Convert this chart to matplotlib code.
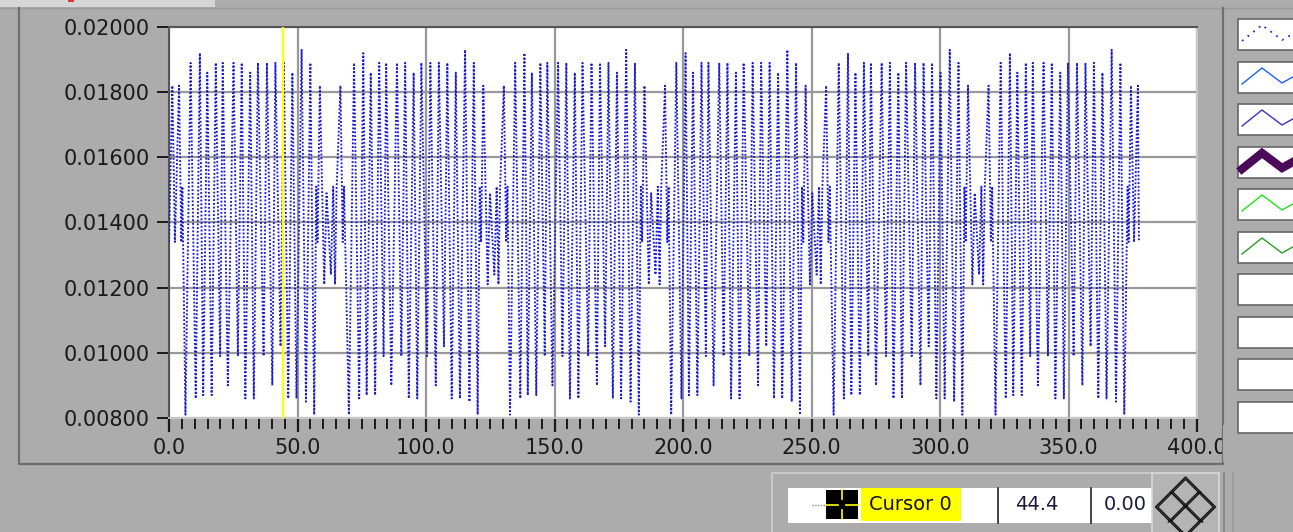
import numpy as np
import matplotlib
matplotlib.use("Agg")
import matplotlib.pyplot as plt
from matplotlib.lines import Line2D
from matplotlib.patches import Rectangle, Polygon
from matplotlib.ticker import MultipleLocator, FormatStrFormatter

# --- data (waveform repeats about every 63 units) ---
period_starts = [0.0, 63.6, 126.3, 189.0, 252.2, 315.2]

# first few samples before the first deep trough
head_x = [0.0, 1.3, 2.3, 3.9, 4.8, 5.2]
head_y = [0.0134, 0.0182, 0.0134, 0.0182, 0.0134, 0.0151]

# big swings inside one period (phase relative to period start)
swing_phase = [6.4, 8.4, 10.4, 12.0, 13.3, 14.9, 16.6, 18.2, 19.9, 20.9,
               22.9, 25.1, 26.8, 28.3, 29.7, 31.6, 33.0, 34.6, 36.8, 38.1,
               40.2, 41.4, 43.4, 44.7, 46.4, 48.0, 49.6, 51.6, 53.3, 55.0, 56.5]
swing_y = [0.0081, 0.0189, 0.0086, 0.0192, 0.0087, 0.0186, 0.0087, 0.0189, 0.0099, 0.0189,
           0.0090, 0.0189, 0.0099, 0.0189, 0.0086, 0.0186, 0.0086, 0.0189, 0.0099, 0.0189,
           0.0090, 0.0189, 0.0102, 0.0189, 0.0086, 0.0186, 0.0086, 0.0193, 0.0085, 0.0189, 0.0081]

# small wiggles between the bursts
gap_phase = [57.3, 57.8, 58.7, 60.4, 61.3, 63.0, 63.9, 64.6, 65.2, 66.7, 67.6, 68.1]
gap_y = [0.0151, 0.0134, 0.0182, 0.0121, 0.0149, 0.0124, 0.0151, 0.0121, 0.0150, 0.0182, 0.0134, 0.0151]

# end of the record
tail_x = [373.0, 373.4, 374.3, 375.5, 377.0, 377.4]
tail_y = [0.0151, 0.0134, 0.0182, 0.0134, 0.0182, 0.0134]

cursor_x = 44.4
cursor_name = "Cursor 0"
cursor_x_text = "44.4"
cursor_y_text = "0.00"

legend_styles = [
    dict(color="#2323d2", lw=1.3, ls=(0, (1, 3))),
    dict(color="#1b5fff", lw=1.0, ls="-"),
    dict(color="#3b2fc9", lw=1.0, ls="-"),
    dict(color="#4a0a58", lw=6.0, ls="-"),
    dict(color="#22e022", lw=1.0, ls="-"),
    dict(color="#2c9a2c", lw=1.0, ls="-"),
    None, None, None, None,
]

# build the series from the pieces above
xs, ys = list(head_x), list(head_y)
for k, s in enumerate(period_starts):
    xs += [s + p for p in swing_phase]
    ys += swing_y
    if k < len(period_starts) - 1:
        xs += [s + p for p in gap_phase]
        ys += gap_y
xs += tail_x
ys += tail_y

# --- figure ---
W, H = 1293, 532
BG = "#acacac"
fig = plt.figure(figsize=(W / 100, H / 100), dpi=100, facecolor=BG)


def fx(px):
    return px / W


def fy(py):
    return 1 - py / H


def fig_line(px, py, **kw):
    fig.add_artist(Line2D([fx(v) for v in px], [fy(v) for v in py],
                          transform=fig.transFigure, **kw))


def fig_rect(x0, y0, x1, y1, **kw):
    fig.add_artist(Rectangle((fx(x0), fy(y1)), fx(x1) - fx(x0), fy(y0) - fy(y1),
                             transform=fig.transFigure, **kw))


# window chrome
fig_rect(0, 0, 215, 7, facecolor="#d6d6d6", edgecolor="none")
fig_rect(68, 0, 74, 2, facecolor="#e03030", edgecolor="none")
fig_line([0, W], [7.5, 7.5], color="#9a9a9a", lw=1)
fig_line([19, 19, 1222.5, 1222.5], [8, 464, 464, 8], color="#6f6f6f", lw=1.6)

ax = fig.add_axes([fx(169), fy(418), fx(1197) - fx(169), fy(27) - fy(418)])
ax.set_facecolor("white")
ax.plot(xs, ys, color="#1a1ad4", lw=1.35, ls=(0, (1, 1)), zorder=3)
ax.axvline(cursor_x, color="#ffff00", lw=1.6, zorder=4)

ax.set_xlim(0, 400)
ax.set_ylim(0.008, 0.020)
ax.xaxis.set_major_locator(MultipleLocator(50))
ax.xaxis.set_minor_locator(MultipleLocator(5))
ax.yaxis.set_major_locator(MultipleLocator(0.002))
ax.xaxis.set_major_formatter(FormatStrFormatter("%.1f"))
ax.yaxis.set_major_formatter(FormatStrFormatter("%.5f"))
ax.grid(True, which="major", color="#999999", lw=1.6, zorder=1)
ax.set_axisbelow(True)
ax.tick_params(axis="x", which="major", length=10, width=1.6, pad=4.5,
               labelsize=15, colors="#1a1a1a", direction="out")
ax.tick_params(axis="x", which="minor", length=8, width=1.4, color="#1a1a1a", direction="out")
ax.tick_params(axis="y", which="major", length=9, width=1.4, pad=5,
               labelsize=15, colors="#1a1a1a", direction="out")
for side in ["top", "left"]:
    ax.spines[side].set_color("#555555")
    ax.spines[side].set_linewidth(1.5)
for side in ["bottom", "right"]:
    ax.spines[side].set_color("#d0d0d0")
    ax.spines[side].set_linewidth(1.2)

# clip the "400.0" label at the frame like the screenshot
fig_rect(1223.3, 425, 1237, 462, facecolor=BG, edgecolor="none", zorder=5)

# plot legend column on the right
box_tops = [19, 62, 104, 147, 189, 232, 274, 317, 359, 402]
for top, st in zip(box_tops, legend_styles):
    fig_rect(1238, top, 1300, top + 31, facecolor="white", edgecolor="#666666", lw=1.2)
    if st is not None:
        fig_line([1242, 1262, 1282, 1300], [top + 22, top + 6, top + 21, top + 11],
                 color=st["color"], lw=st["lw"], ls=st["ls"], solid_joinstyle="miter")

# cursor legend at the bottom
fig_line([772, 772, 1152], [532, 473, 473], color="#cfcfcf", lw=1.2)
fig_rect(788, 488, 1152, 523, facecolor="white", edgecolor="none")
fig_line([998, 998], [488, 523], color="#222222", lw=1.2)
fig_line([1091, 1091], [488, 523], color="#222222", lw=1.2)
fig_line([812, 825], [505, 505], color="#888888", lw=1, ls=(0, (1, 1)))
fig_rect(826, 490, 858, 519, facecolor="black", edgecolor="none")
fig_line([826, 838], [504.5, 504.5], color="#ffff00", lw=1.2)
fig_line([846, 858], [504.5, 504.5], color="#ffff00", lw=1.2)
fig_line([842, 842], [490, 499], color="#ffff00", lw=1.2)
fig_line([842, 842], [510, 519], color="#ffff00", lw=1.2)
fig_rect(861, 488, 961, 521, facecolor="#ffff00", edgecolor="none")
fig.text(fx(869), fy(505), cursor_name, ha="left", va="center", fontsize=14, color="#111111")
fig.text(fx(1037), fy(505), cursor_x_text, ha="center", va="center", fontsize=14, color="#1a1a40")
fig.text(fx(1104), fy(505), cursor_y_text, ha="left", va="center", fontsize=14, color="#1a1a40")

# cursor mover button
fig_rect(1152, 473, 1219, 540, facecolor="#b4b4b4", edgecolor="#d8d8d8", lw=1.2, zorder=6)
cx, cy, r = 1185.5, 507, 30
for off in (0, 2.2):
    fig.add_artist(Polygon([(fx(cx - r + off), fy(cy)), (fx(cx), fy(cy - r + off)),
                            (fx(cx + r - off), fy(cy)), (fx(cx), fy(cy + r - off))],
                           closed=True, fill=False, edgecolor="#111111", lw=1.0,
                           transform=fig.transFigure, zorder=7))
    fig_line([cx - r / 2 + off, cx + r / 2 + off], [cy - r / 2, cy + r / 2],
             color="#111111", lw=1.0, zorder=7)
    fig_line([cx + r / 2 - off, cx - r / 2 - off], [cy - r / 2, cy + r / 2],
             color="#111111", lw=1.0, zorder=7)
fig_line([1224, 1224], [473, 532], color="#8a8a8a", lw=1.5, zorder=6)
fig_line([1233, 1233], [473, 532], color="#9a9a9a", lw=1.2, zorder=6)

fig.savefig("out.png", dpi=100, facecolor=fig.get_facecolor())
